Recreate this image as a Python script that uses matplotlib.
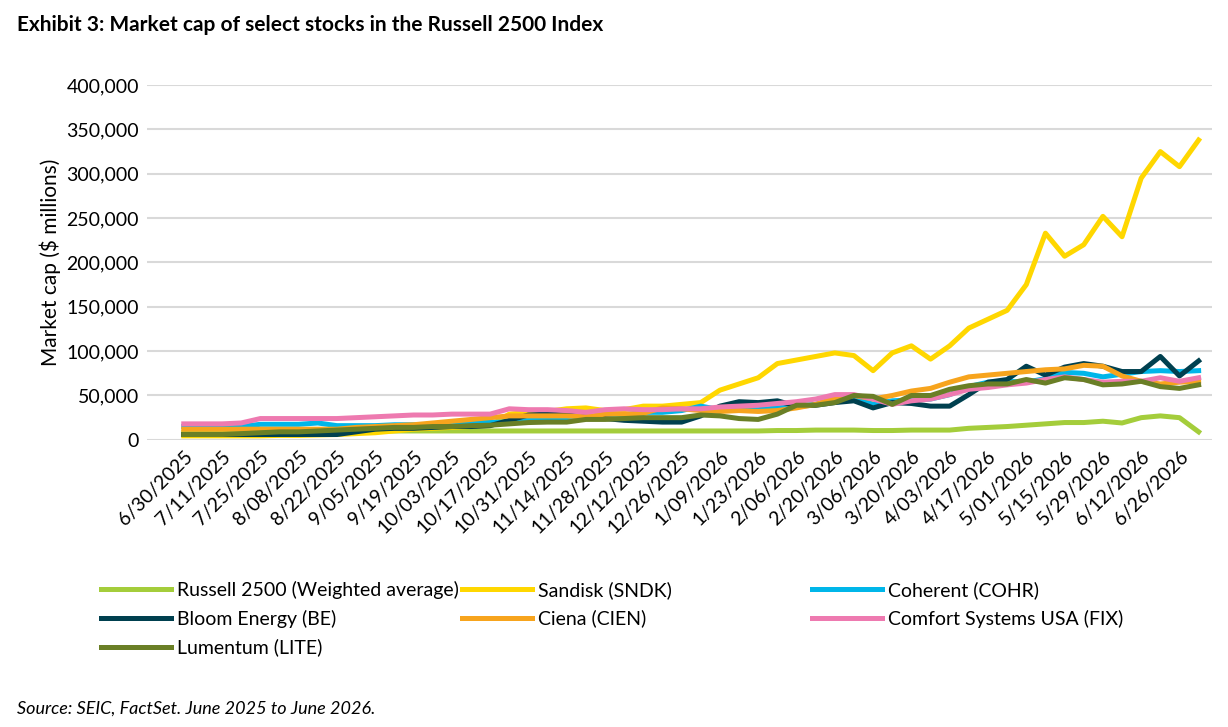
import matplotlib.pyplot as plt
import numpy as np

plt.rcParams['font.family'] = ['Lato', 'DejaVu Sans']

# data ------------------------------------------------------------------
tick_labels = ['6/30/2025', '7/11/2025', '7/25/2025', '8/08/2025', '8/22/2025', '9/05/2025',
               '9/19/2025', '10/03/2025', '10/17/2025', '10/31/2025', '11/14/2025', '11/28/2025',
               '12/12/2025', '12/26/2025', '1/09/2026', '1/23/2026', '2/06/2026', '2/20/2026',
               '3/06/2026', '3/20/2026', '4/03/2026', '4/17/2026', '5/01/2026', '5/15/2026',
               '5/29/2026', '6/12/2026', '6/26/2026']

russell = [8, 8, 8, 9, 9, 9, 10, 10, 10, 10, 10, 10, 10, 10, 10, 10, 10, 10, 10, 10, 10, 10, 10, 10, 10,
           10, 10, 10, 10, 10, 10, 10.5, 10.5, 11, 11, 11, 10.5, 10.5,
           11, 11, 11, 13, 14, 15, 16.5, 18, 19.5, 19.5, 21, 19, 25, 27, 25, 9]
sandisk = [4.5, 4.5, 4.5, 4.5, 4.5, 5, 5, 5.5, 6, 7, 8, 10, 12, 13, 14, 15, 16, 29, 31, 32, 35, 36, 33, 34, 38,
           38, 40, 42, 56, 63, 70, 86, 90, 94, 98, 95, 78, 98, 106, 91, 106, 126, 136, 146, 175, 233, 207,
           220, 252, 229, 295, 325, 308, 338]
coherent = [15, 15, 15, 15, 17.5, 17.5, 17.5, 19, 16, 16, 16, 17, 17, 17, 19, 19, 20, 20, 23, 23, 22, 24, 25, 28, 31,
            31, 33, 38, 34, 34, 34, 36, 38, 40, 46, 48, 40, 44, 45, 46, 51, 60, 65, 66, 65, 69, 76, 75, 71, 74,
            77, 78, 77, 78]
bloom = [6, 6, 6, 6, 6, 6, 6, 6, 6, 9, 12, 13, 13, 14, 15, 15, 16, 22, 28, 29, 28, 26, 24, 22, 21,
         20, 20, 27, 38, 43, 42, 44, 38, 39, 42, 44, 36, 42, 41, 38, 38, 51, 65, 68, 83, 73, 82, 86, 83, 77,
         77, 94, 72, 89]
ciena = [12, 12, 12, 12, 12, 12, 12, 12, 12, 14, 15, 16, 17, 19, 21, 23, 25, 27, 27, 27, 27, 26, 29, 29, 30,
         36, 35, 33, 32, 33, 32, 33, 36, 40, 47, 50, 46, 50, 55, 58, 65, 71, 73, 75, 77, 79, 80, 84, 83, 72,
         66, 63, 65, 66]
comfort = [18, 18, 18, 19, 24, 24, 24, 24, 24, 25, 26, 27, 28, 28, 29, 29, 29, 35, 34, 34, 33, 31, 34, 35, 34,
           34, 35, 35, 37, 38, 39, 41, 43, 46, 51, 51, 46, 40, 44, 46, 51, 57, 59, 62, 64, 68, 71, 68, 65, 66,
           66, 70, 66, 70]
lumentum = [6, 6, 6, 7, 8, 9, 9, 10, 11, 12, 13, 14, 14, 15, 15, 16, 16.5, 18, 19.5, 20, 20, 23, 23, 24, 25,
            25, 25, 28, 27, 24, 23, 29, 39, 39, 42, 50, 49, 40, 50, 50, 57, 61, 63, 63, 68, 64, 70, 68, 62, 63,
            66, 60, 58, 62]

series = [
    ('Russell 2500 (Weighted average)', russell, '#A4CD3B'),
    ('Sandisk (SNDK)', sandisk, '#FFD700'),
    ('Coherent (COHR)', coherent, '#00B6E9'),
    ('Bloom Energy (BE)', bloom, '#00404F'),
    ('Ciena (CIEN)', ciena, '#F7A41D'),
    ('Comfort Systems USA (FIX)', comfort, '#EE7AB0'),
    ('Lumentum (LITE)', lumentum, '#6A7F26'),
]

# plot ------------------------------------------------------------------
fig = plt.figure(figsize=(12.28, 7.27), dpi=100)
ax = fig.add_axes([0.12, 0.395, 0.867, 0.488])

x = np.arange(len(sandisk))
handles = {}
for name, vals, col in series:
    h, = ax.plot(x, np.array(vals) * 1000, color=col, lw=3.6, label=name)
    handles[name] = h

ax.set_ylim(0, 400000)
ax.set_xlim(-1.9, 53.7)
ax.set_yticks(range(0, 400001, 50000))
ax.set_yticklabels([f'{v:,}' for v in range(0, 400001, 50000)], fontsize=14)
ax.set_xticks(x[::2])
ax.set_xticklabels(tick_labels, rotation=45, ha='right', rotation_mode='anchor', fontsize=14)
ax.tick_params(length=0, pad=6)
ax.grid(axis='y', color='#d9d9d9', lw=1.5)
ax.set_axisbelow(True)
for s in ax.spines.values():
    s.set_visible(False)
ax.set_ylabel('Market cap ($ millions)', fontsize=15)

# legend in three fixed-position columns
columns = [(0.068, ['Russell 2500 (Weighted average)', 'Bloom Energy (BE)', 'Lumentum (LITE)']),
           (0.362, ['Sandisk (SNDK)', 'Ciena (CIEN)']),
           (0.647, ['Coherent (COHR)', 'Comfort Systems USA (FIX)'])]
for xpos, names in columns:
    fig.legend([handles[n] for n in names], names, loc='upper left', bbox_to_anchor=(xpos, 0.225),
               frameon=False, fontsize=14, handlelength=3.6, handletextpad=0.3, labelspacing=0.55)

fig.text(0.014, 0.958, 'Exhibit 3: Market cap of select stocks in the Russell 2500 Index',
         fontsize=15, fontweight='bold')
fig.text(0.014, 0.018, 'Source: SEIC, FactSet. June 2025 to June 2026.', fontsize=13, style='italic')

plt.savefig('out.png', dpi=100)
